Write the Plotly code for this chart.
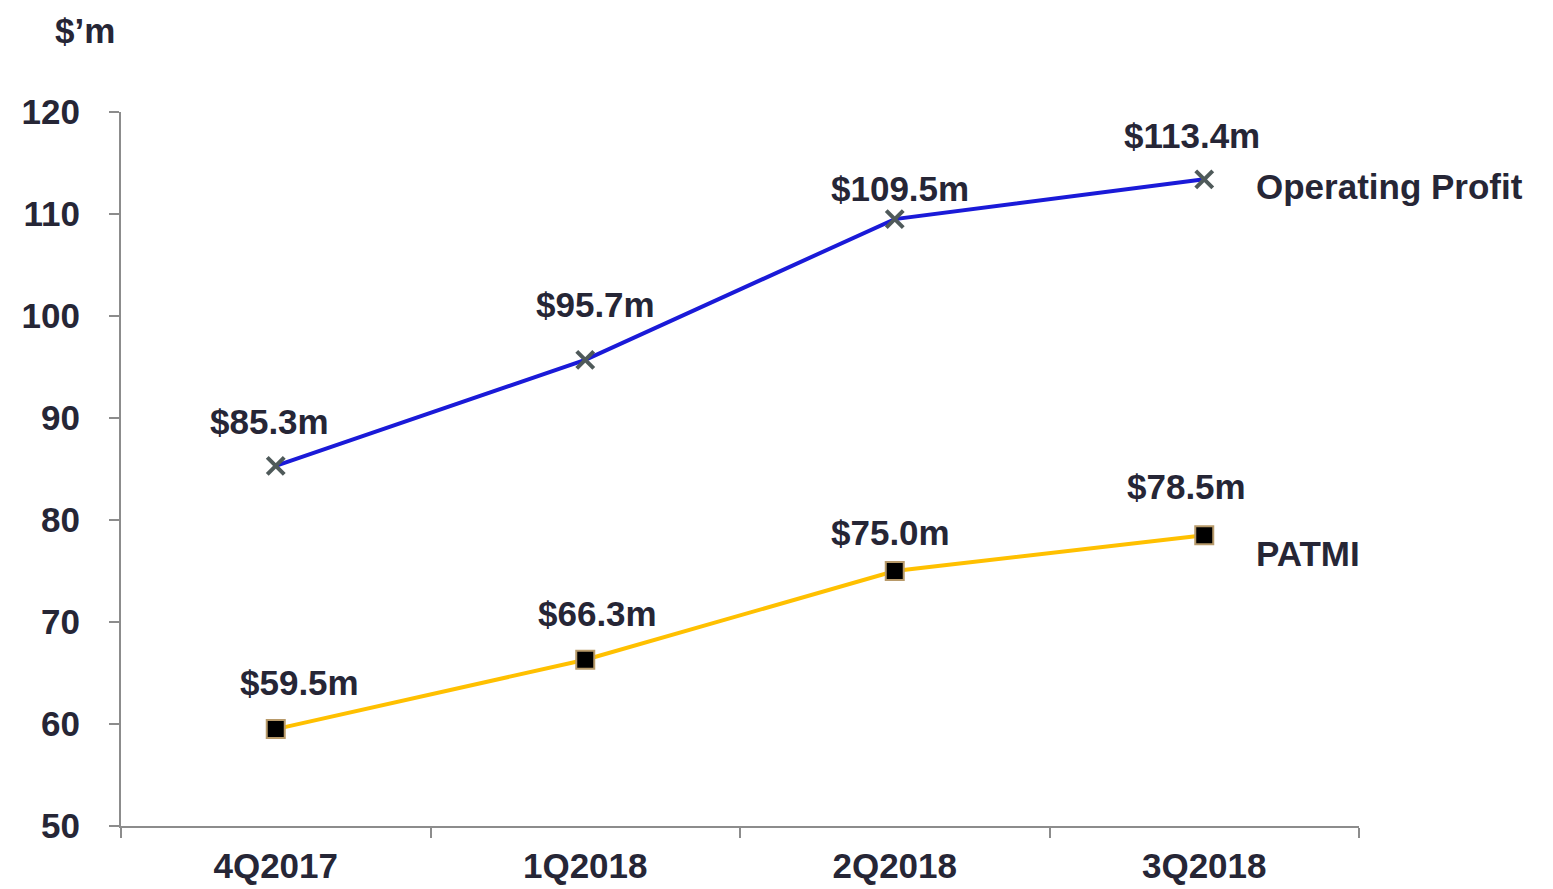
import plotly.graph_objects as go

quarters = ["4Q2017", "1Q2018", "2Q2018", "3Q2018"]
operating_profit = [85.3, 95.7, 109.5, 113.4]
patmi = [59.5, 66.3, 75.0, 78.5]
series_names = ["Operating Profit", "PATMI"]
y_ticks = [50, 60, 70, 80, 90, 100, 110, 120]

# label offsets (style only, pixels)
op_label_shift = [(-6, 44), (10, 55), (5, 31), (-12, 44)]
pat_label_shift = [(24, 47), (12, 46), (-4, 39), (-18, 49)]

TXT = "#262636"
FONT = "Liberation Sans, Arial, sans-serif"

def f(size=35):
    return dict(family=FONT, size=size, color=TXT, weight="bold")

fig = go.Figure()
fig.add_trace(go.Scatter(
    x=quarters, y=operating_profit, mode="lines+markers",
    line=dict(color="#1a1ad8", width=4),
    marker=dict(symbol="x-thin", size=17, line=dict(color="#4f5a5a", width=4)),
    name=series_names[0], showlegend=False))
fig.add_trace(go.Scatter(
    x=quarters, y=patmi, mode="lines+markers",
    line=dict(color="#ffc000", width=4),
    marker=dict(symbol="square", size=18, color="#000000",
                line=dict(color="#b89a6a", width=2)),
    name=series_names[1], showlegend=False))

for q, v, (dx, dy) in zip(quarters, operating_profit, op_label_shift):
    fig.add_annotation(x=q, y=v, text=f"${v:.1f}m", showarrow=False,
                       xshift=dx, yshift=dy, font=f())
for q, v, (dx, dy) in zip(quarters, patmi, pat_label_shift):
    fig.add_annotation(x=q, y=v, text=f"${v:.1f}m", showarrow=False,
                       xshift=dx, yshift=dy, font=f())

fig.add_annotation(x=quarters[-1], y=operating_profit[-1], text=series_names[0],
                   showarrow=False, xanchor="left", xshift=50, yshift=-7, font=f())
fig.add_annotation(x=quarters[-1], y=patmi[-1], text=series_names[1],
                   showarrow=False, xanchor="left", xshift=50, yshift=-18, font=f())

fig.add_annotation(xref="paper", yref="paper", x=0, y=1.0, xshift=-36, yshift=82,
                   text="$’m", showarrow=False, xanchor="center", yanchor="middle",
                   font=f())

fig.update_layout(
    width=1537, height=881,
    margin=dict(l=113, r=186, t=104, b=63),
    paper_bgcolor="white", plot_bgcolor="white",
    font=f(),
)
fig.update_xaxes(
    type="category", range=[-0.5, 3.5], automargin=False,
    showline=True, linecolor="#8c8c8c", linewidth=2,
    ticks="outside", tickson="boundaries", ticklen=10, tickcolor="#8c8c8c", tickwidth=2,
    showgrid=False, zeroline=False, ticklabelstandoff=8,
    tickfont=f(35),
)
fig.update_yaxes(
    range=[50, 120], tickvals=y_ticks, automargin=False,
    showline=True, linecolor="#8c8c8c", linewidth=2,
    ticks="outside", ticklen=10, tickcolor="#8c8c8c", tickwidth=2,
    showgrid=False, zeroline=False, ticklabelstandoff=22,
    tickfont=f(),
)

fig.write_html("out.html")
